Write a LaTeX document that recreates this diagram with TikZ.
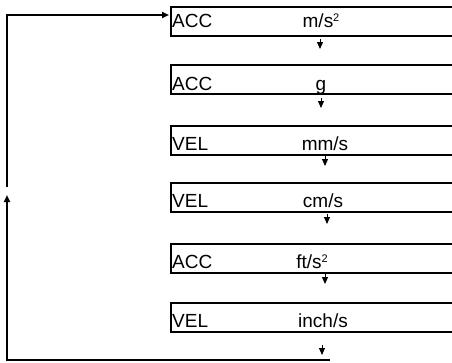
\documentclass[tikz,border=0pt]{standalone}
\usepackage{fontspec}
\setmainfont{Liberation Sans}
\usetikzlibrary{calc}
\usetikzlibrary{arrows.meta}

\newcommand{\sqr}{\raisebox{6pt}{\fontsize{11}{11}\selectfont 2}}

\begin{document}
\begin{tikzpicture}[x=1pt, y=-1pt, >={Triangle[length=7pt,width=6pt]},
  font=\fontsize{19}{22}\selectfont]
\tikzset{
 modebox/.style={draw, line width=2pt, anchor=north west, minimum width=300pt, minimum height=29pt, inner sep=0},
 boxtext/.style={inner sep=0},
 loopline/.style={line width=1.9pt, ->},
 steparrow/.style={line width=1pt, ->}
}
\useasboundingbox (0,0) rectangle (452,362);
\begin{scope}
\clip (0,0) rectangle (452,362);
\foreach \n/\t/\b/\m/\u/\ux/\ax/\as in {
  1/6/27/ACC/{m/s\sqr}/321/320/39,
  2/64/90/ACC/g/321/321/98,
  3/125/150/VEL/{mm/s}/325/325/156,
  4/182/207/VEL/{cm/s}/323/327/214,
  5/243/268/ACC/{ft/s\sqr}/312/325/274,
  6/302/327/VEL/{inch/s}/323/322/345} {
 \node[modebox] (box\n) at (170,\t) {};
 \node[boxtext, anchor=base west] (mode\n) at (172,\b) {\m};
 \node[boxtext, anchor=base] (unit\n) at (\ux,\b) {\u};
 \coordinate (stepfrom\n) at (\ax,\as);
 \draw[steparrow] (stepfrom\n) --++(0,10);
}
\end{scope}
\coordinate (loopstart) at (330,360);
\coordinate (loopcorner) at (7,360);
\coordinate (looptip) at (7,195);
\coordinate (loopresume) at (7,187);
\coordinate (looptop) at (7,15);
\draw[loopline] (loopstart) -- (loopcorner) -- (looptip);
\draw[loopline, shorten >=1pt] (loopresume) -- (looptop) -- (looptop -| box1.west);
\end{tikzpicture}
\end{document}
